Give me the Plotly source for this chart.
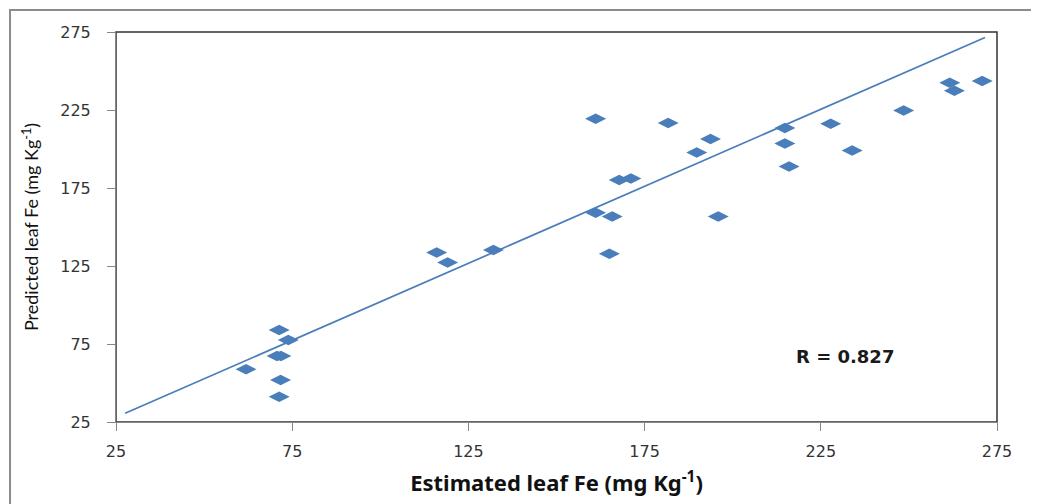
import plotly.graph_objects as go

# Estimated (x) vs predicted (y) leaf Fe, mg/kg
estimated = [61.9, 71.3, 73.9, 70.7, 71.8, 71.7, 71.3,
             116.0, 119.1, 132.1,
             161.1, 181.7, 193.7, 189.8, 167.8, 171.1, 161.1, 165.8, 165.0, 195.9,
             214.8, 214.8, 216.0, 227.8, 233.9, 248.5, 261.6, 262.9, 270.8]
predicted = [58.8, 84.0, 77.6, 67.3, 67.3, 51.9, 41.2,
             133.6, 127.2, 135.3,
             219.4, 216.6, 206.4, 197.8, 180.2, 181.1, 159.2, 156.7, 132.8, 156.7,
             213.4, 203.5, 188.8, 216.2, 199.1, 224.7, 242.4, 237.3, 243.6]

trend_x = [27.6, 271.6]
trend_slope = 0.987
trend_intercept = 3.35
trend_y = [trend_slope * v + trend_intercept for v in trend_x]

ticks = [25, 75, 125, 175, 225, 275]
r_label = "R = 0.827"

blue = "#4A7EBB"

fig = go.Figure()
fig.add_trace(go.Scatter(x=trend_x, y=trend_y, mode="lines",
                         line=dict(color=blue, width=1.7), showlegend=False,
                         hoverinfo="skip"))
fig.add_trace(go.Scatter(x=estimated, y=predicted, mode="markers",
                         marker=dict(symbol="diamond-wide", size=15, color=blue,
                                     line=dict(width=0)),
                         showlegend=False))

axis_common = dict(range=[25, 275], tickvals=ticks, showgrid=False, zeroline=False,
                   showline=True, linecolor="#868686", linewidth=1,
                   ticks="outside", ticklen=8, tickcolor="#868686",
                   automargin=False, layer="above traces",
                   tickfont=dict(family="DejaVu Sans", size=16, color="#333333"))

fig.update_xaxes(**axis_common, ticklabelstandoff=7,
                 title=dict(text="Estimated leaf Fe (mg Kg<sup>-1</sup>)",
                            font=dict(family="Noto Sans", size=22, color="#111111",
                                      weight="bold"),
                            standoff=15))
fig.update_yaxes(**axis_common, ticklabelstandoff=13,
                 title=dict(text="Predicted leaf Fe (mg Kg<sup>-1</sup>)",
                            font=dict(family="Lato", size=18, color="#111111"),
                            standoff=16))

# plot-area border (dark top/right; gray axis lines drawn over left/bottom)
fig.add_shape(type="rect", xref="paper", yref="paper", x0=0, x1=1, y0=0, y1=1,
              line=dict(color="#333333", width=1.5), layer="below")
# outer chart frame
fig.add_shape(type="rect", xref="paper", yref="paper", x0=-0.1203, x1=1.2,
              y0=-0.4, y1=1.0564, line=dict(color="#8C8C8C", width=2),
              layer="above")

fig.add_annotation(x=0.827, y=0.169, xref="paper", yref="paper", text=r_label,
                   showarrow=False, xanchor="center", yanchor="middle",
                   font=dict(family="DejaVu Sans", size=18, color="#1a1a1a",
                             weight="bold"))

# page body has an 8px default margin; size the figure to fill the window
fig.update_layout(width=1031, height=496,
                  margin=dict(l=108, r=42, t=24, b=82),
                  paper_bgcolor="white", plot_bgcolor="white")

fig.write_html("out.html")
